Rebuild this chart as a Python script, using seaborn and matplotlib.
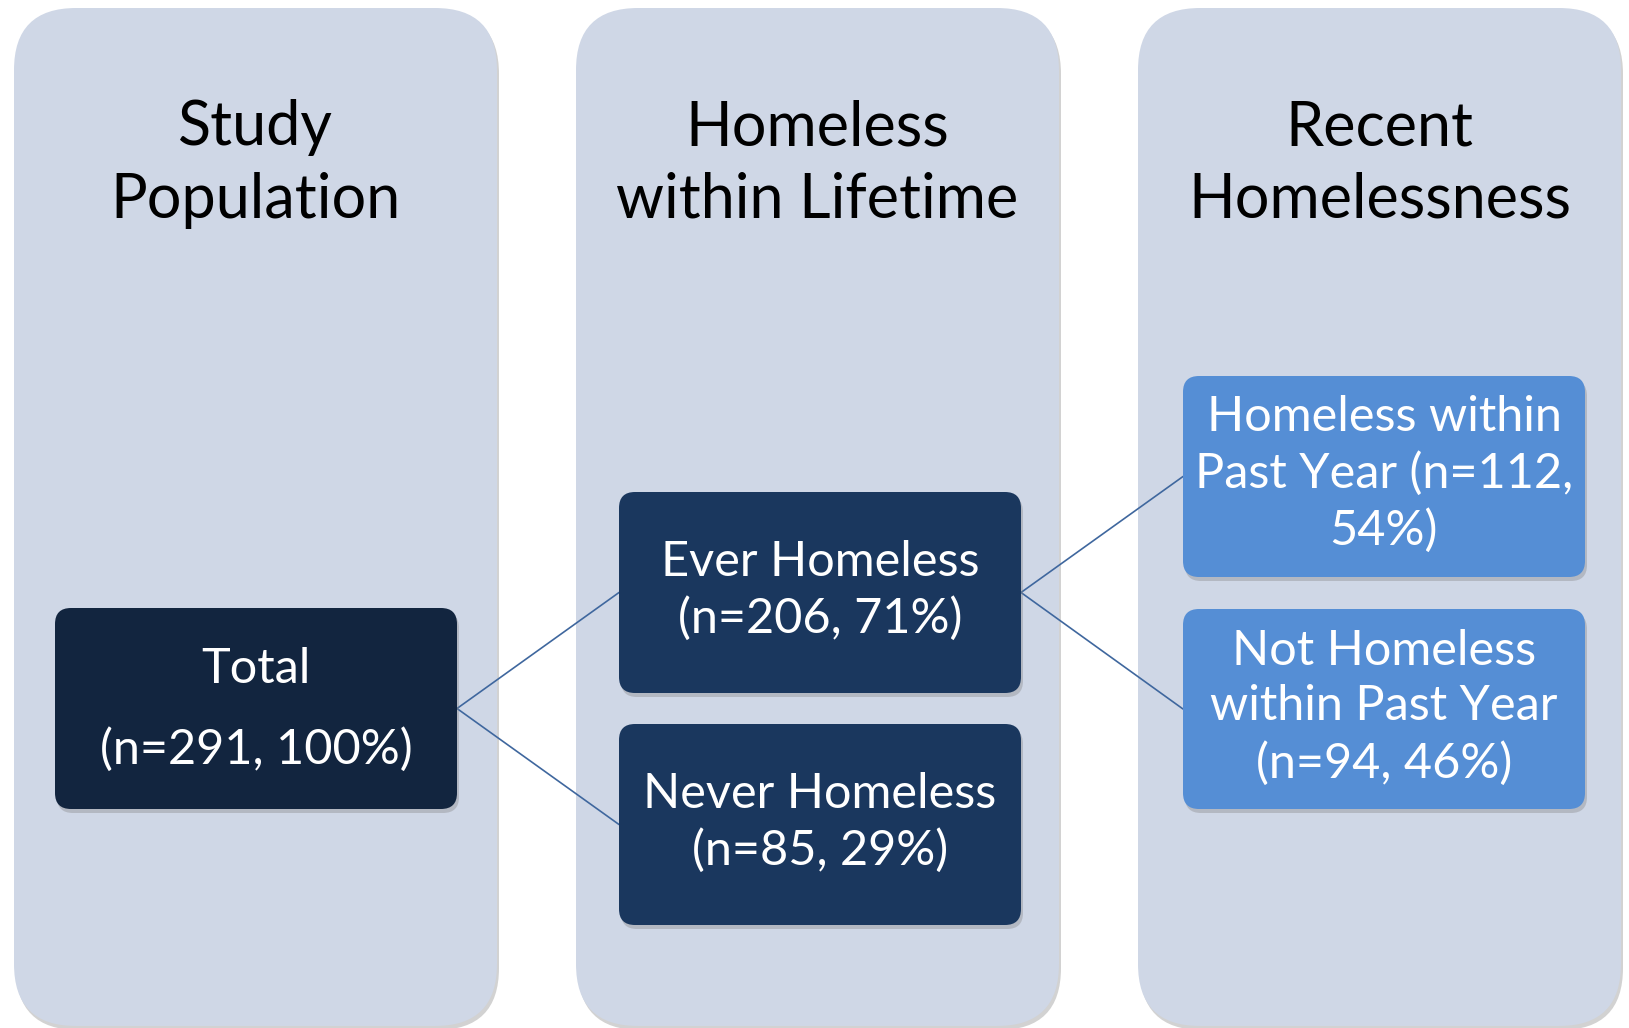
import matplotlib
matplotlib.use("Agg")
import matplotlib.pyplot as plt
from matplotlib.patches import FancyBboxPatch
import seaborn as sns

# ---- data ----
column_titles = ["Study\nPopulation", "Homeless\nwithin Lifetime", "Recent\nHomelessness"]
node_labels = ["Total", "Ever Homeless", "Never Homeless",
               "Homeless within\nPast Year", "Not Homeless\nwithin Past Year"]
node_n = [291, 206, 85, 112, 94]
node_pct = [100, 71, 29, 54, 46]
node_column = [0, 1, 1, 2, 2]
edges = [(0, 1), (0, 2), (1, 3), (1, 4)]

sns.set_theme(style="white")
plt.rcParams['font.family'] = ['Lato', 'DejaVu Sans']

W, H = 1629, 1028
fig = plt.figure(figsize=(W / 100, H / 100), dpi=100)
ax = fig.add_axes([0, 0, 1, 1])
ax.set_xlim(0, W)
ax.set_ylim(H, 0)
ax.axis("off")

col_bg = "#CFD7E6"
col_x = [14, 576, 1138]
col_w = 483
col_top, col_bot = 8, 1026


def rbox(x0, y0, w, h, r, fc, shadow=True, z=1):
    if shadow:
        sh = FancyBboxPatch((x0 + 2, y0 + 4), w, h,
                            boxstyle=f"round,pad=0,rounding_size={r}",
                            fc="#7f7f7f", ec="none", alpha=0.35, zorder=z - 0.5)
        ax.add_patch(sh)
    p = FancyBboxPatch((x0, y0), w, h, boxstyle=f"round,pad=0,rounding_size={r}",
                       fc=fc, ec="none", zorder=z)
    ax.add_patch(p)


for i, t in enumerate(column_titles):
    rbox(col_x[i], col_top, col_w, col_bot - col_top, 62, col_bg, z=1)
    ax.text(col_x[i] + col_w / 2, 164, t, ha="center", va="center",
            fontsize=44, color="black", linespacing=1.33, zorder=3)

# node layout (pixel boxes)
node_box = [
    (55, 608, 402, 201),
    (619, 492, 402, 201),
    (619, 724, 402, 201),
    (1183, 376, 402, 201),
    (1183, 609, 402, 200),
]
node_fc = ["#12253F", "#1A375E", "#1A375E", "#558ED5", "#558ED5"]

for k, (x0, y0, w, h) in enumerate(node_box):
    rbox(x0, y0, w, h, 16, node_fc[k], z=4)
    lab = node_labels[k]
    n, p = node_n[k], node_pct[k]
    if k == 0:
        txt = f"{lab}\n(n={n}, {p}%)"
        ax.text(x0 + w / 2, y0 + h / 2 + 1, txt, ha="center", va="center",
                fontsize=35, color="white", linespacing=1.97, zorder=6)
    elif k == 3:
        txt = f"Homeless within\nPast Year (n={n},\n{p}%)"
        ax.text(x0 + w / 2, y0 + h / 2 - 3, txt, ha="center", va="center",
                fontsize=35, color="white", linespacing=1.33, zorder=6)
    else:
        txt = f"{lab}\n(n={n}, {p}%)"
        ax.text(x0 + w / 2, y0 + h / 2 - 2, txt, ha="center", va="center",
                fontsize=35, color="white", linespacing=1.33, zorder=6)

for a, b in edges:
    xa, ya, wa, ha_ = node_box[a]
    xb, yb, wb, hb = node_box[b]
    ax.plot([xa + wa, xb], [ya + ha_ / 2, yb + hb / 2], color="#3F679E",
            lw=1.2, zorder=3)

fig.savefig("out.png", dpi=100)
